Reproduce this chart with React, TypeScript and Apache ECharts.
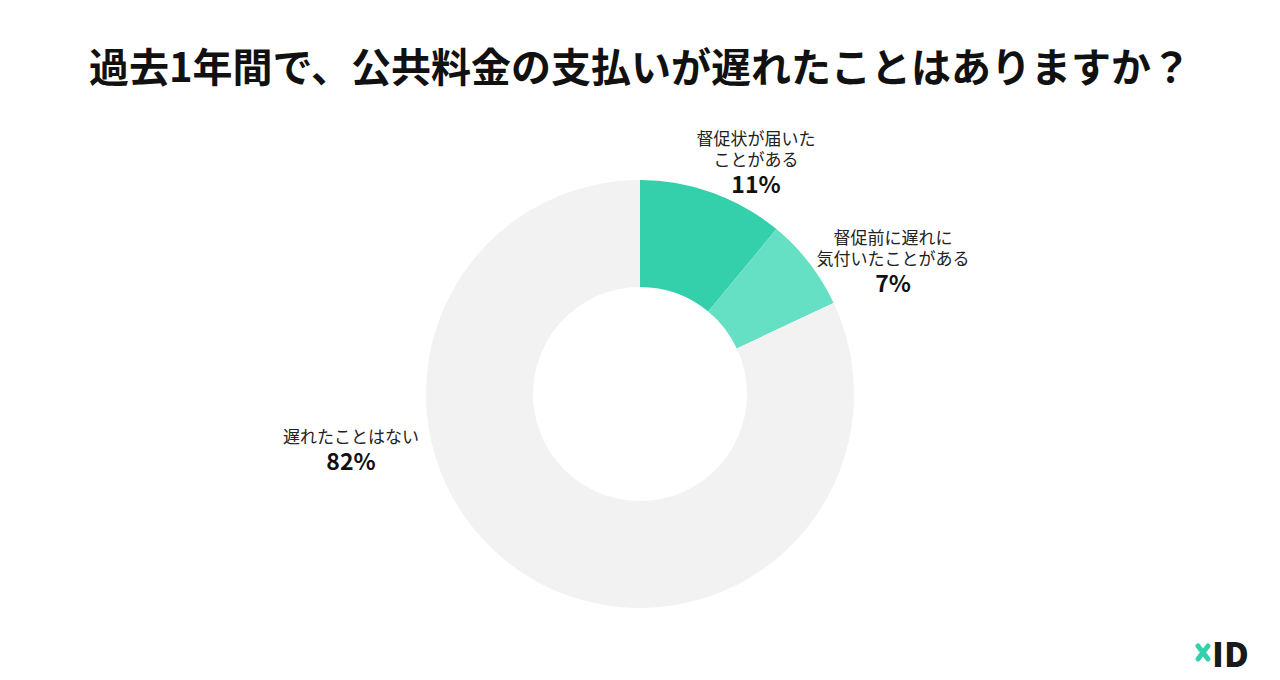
import React, { useEffect, useRef } from "react";
import * as echarts from "echarts";

const TITLE = "過去1年間で、公共料金の支払いが遅れたことはありますか？";
const CATEGORIES = ["督促状が届いた\nことがある", "督促前に遅れに\n気付いたことがある", "遅れたことはない"];
const VALUES = [11, 7, 82];
const COLORS = ["#34CFAB", "#66E0C4", "#F2F2F2"];
// label anchor (center) positions in px
const LABEL_POS: [number, number][] = [
  [756, 162],
  [893, 261],
  [351, 449],
];

export default function App() {
  const ref = useRef<HTMLDivElement>(null);
  useEffect(() => {
    if (!ref.current) return;
    const chart = echarts.init(ref.current, null, { renderer: "svg" });
    const font = '"Noto Sans CJK JP", "Noto Sans", sans-serif';
    chart.setOption({
      animation: false,
      backgroundColor: "#ffffff",
      title: {
        text: TITLE,
        left: "center",
        top: 40,
        textStyle: { fontFamily: font, fontSize: 40, fontWeight: "bold", color: "#111111" },
      },
      graphic: [
        {
          type: "line",
          shape: { x1: 1198, y1: 646, x2: 1208, y2: 659 },
          style: { stroke: "#34CFAB", lineWidth: 5, lineCap: "round" },
        },
        {
          type: "line",
          shape: { x1: 1208, y1: 646, x2: 1198, y2: 659 },
          style: { stroke: "#34CFAB", lineWidth: 5, lineCap: "round" },
        },
        {
          type: "text",
          x: 1212,
          y: 652,
          style: {
            text: "ID",
            fontFamily: '"Noto Sans CJK JP", sans-serif',
            fontWeight: 900,
            fontSize: 34,
            fill: "#1a1a1a",
            verticalAlign: "middle",
          },
        },
      ],
      series: [
        {
          type: "pie",
          center: [640, 394],
          radius: [107, 214],
          startAngle: 90,
          clockwise: true,
          silent: true,
          data: CATEGORIES.map((c, i) => ({
            name: c,
            value: VALUES[i],
            itemStyle: { color: COLORS[i] },
          })),
          labelLine: { show: false },
          label: {
            show: true,
            position: "outside",
            fontFamily: font,
            formatter: (p: any) => {
              const lines = String(p.name).split("\n").map((l: string) => `{n|${l}}`);
              return lines.join("\n") + `\n{p|${p.value}%}`;
            },
            rich: {
              n: { fontFamily: font, fontSize: 17, lineHeight: 21, color: "#222222", align: "center" },
              p: { fontFamily: font, fontSize: 23, fontWeight: "bold", lineHeight: 28, color: "#111111", align: "center" },
            },
          },
          labelLayout: (params: any) => {
            const pos = LABEL_POS[params.dataIndex];
            return { x: pos[0], y: pos[1], align: "center", verticalAlign: "middle" };
          },
        },
      ],
    });
    return () => chart.dispose();
  }, []);
  return <div ref={ref} style={{ position: "fixed", left: 0, top: 0, width: 1280, height: 680 }} />;
}
